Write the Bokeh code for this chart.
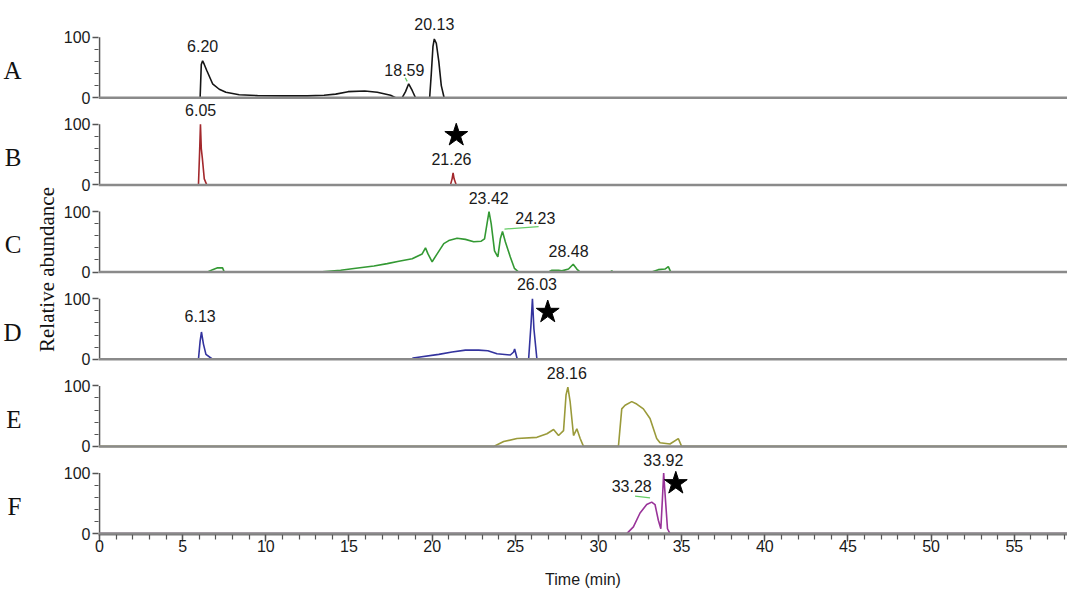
from bokeh.plotting import figure
from bokeh.models import FixedTicker, LinearAxis, Span, SingleIntervalTicker, ColumnDataSource
from bokeh.core.properties import value
from bokeh.embed import file_html
from bokeh.resources import INLINE

# ---------------- data ----------------
panels = ["A", "B", "C", "D", "E", "F"]
colors = ["#161616", "#a3282c", "#339933", "#33339e", "#9a9a3a", "#993399"]

A_t = [0, 6.05, 6.12, 6.2, 6.3, 6.45, 6.8, 7.2, 7.6, 8.4, 9.5, 11.0, 12.5, 13.5, 14.2, 14.95, 15.95, 16.7, 17.5, 17.8,
       18.2, 18.4, 18.59, 18.8, 19.0, 19.85, 19.95, 20.05, 20.13, 20.25, 20.4, 20.55, 20.72, 58.2]
A_y = [0, 0, 55, 61, 55, 45, 23, 14, 9, 5, 3.5, 3, 3, 4, 6, 10, 11, 9, 4, 0,
       0, 10, 23, 12, 0, 0, 40, 85, 97, 90, 60, 20, 0, 0]

B_t = [0, 5.95, 6.02, 6.07, 6.12, 6.18, 6.3, 6.45, 21.1, 21.2, 21.26, 21.32, 21.45, 58.2]
B_y = [0, 0, 55, 100, 60, 45, 10, 0, 0, 10, 20, 10, 0, 0]

C_t = [0, 6.5, 6.8, 7.1, 7.4, 7.5, 13.2, 14.5, 15.3, 16.5, 17.3, 18.0, 18.8, 19.4, 19.6, 19.75, 20.0, 20.3, 20.7,
       21.0, 21.5, 22.0, 22.5, 22.95, 23.15, 23.3, 23.42, 23.55, 23.75, 23.95, 24.1, 24.23, 24.4, 24.7, 24.95, 25.2,
       27.0, 27.2, 27.6, 27.8, 28.2, 28.48, 28.7, 28.9, 30.7, 30.8, 30.9, 33.2, 33.6, 34.0, 34.2, 34.35, 58.2]
C_y = [0, 0, 4, 7, 7, 0, 0, 3, 6, 10, 14, 18, 22, 30, 40, 30, 17, 30, 47,
       52, 56, 54, 50, 51, 55, 80, 100, 80, 35, 25, 55, 67, 50, 25, 6, 0,
       0, 3, 3, 2, 5, 13, 5, 0, 0, 2, 0, 0, 4, 5, 9, 0, 0]

D_t = [0, 5.95, 6.05, 6.13, 6.25, 6.4, 6.8, 18.8, 18.85, 20.4, 21.2, 22.0, 22.8, 23.35, 23.9, 24.7, 24.9, 24.96,
       25.1, 25.2, 25.8, 25.95, 26.03, 26.12, 26.3, 58.2]
D_y = [0, 0, 30, 45, 25, 8, 0, 0, 2, 8, 12, 15, 15, 14, 9, 7, 12, 17,
       2, 0, 0, 60, 100, 50, 0, 0]

E_t = [0, 23.7, 24.3, 25.1, 26.3, 26.9, 27.3, 27.6, 27.9, 28.05, 28.16, 28.3, 28.5, 28.7, 28.9, 29.1,
       31.2, 31.4, 31.6, 32.0, 32.3, 32.7, 33.1, 33.5, 33.7, 34.3, 34.8, 35.0, 58.2]
E_y = [0, 0, 8, 13, 15, 21, 28, 18, 26, 85, 98, 73, 18, 29, 13, 0,
       0, 62, 68, 74, 70, 62, 46, 13, 6, 4, 13, 0, 0]

F_t = [0, 31.7, 32.1, 32.5, 32.9, 33.2, 33.4, 33.6, 33.75, 33.85, 33.92, 34.0, 34.15, 34.3, 58.2]
F_y = [0, 0, 11, 34, 48, 52, 48, 22, 8, 60, 100, 67, 8, 0, 0]

traces_t = [A_t, B_t, C_t, D_t, E_t, F_t]
traces_y = [A_y, B_y, C_y, D_y, E_y, F_y]

# peak labels: panel index, time, relative height, text
label_panel = [0, 0, 0, 1, 1, 2, 2, 2, 3, 3, 4, 5, 5]
label_t = [6.2, 18.33, 20.13, 6.08, 21.16, 23.4, 26.2, 28.2, 6.05, 26.3, 28.1, 33.9, 32.0]
label_y = [86, 45, 122, 124, 42, 123, 90, 34, 71, 124, 122, 121, 79]
label_text = ["6.20", "18.59", "20.13", "6.05", "21.26", "23.42", "24.23", "28.48", "6.13", "26.03", "28.16", "33.92", "33.28"]

# leader lines (panel, t0, y0, t1, y1)
lead_panel = [0, 2, 5]
lead_t0 = [18.38, 24.35, 32.2]
lead_y0 = [33, 71, 62]
lead_t1 = [18.5, 26.4, 33.1]
lead_y1 = [27, 75, 59]

# stars
star_panel = [1, 3, 5]
star_t = [21.45, 26.95, 34.65]
star_y = [82, 78, 83]

x_ticks_interval = 5
y_tick_values = [0, 100]
y_minor_values = [20, 40, 60, 80]

# ---------------- layout ----------------
STEP = 144
n = len(panels)
offsets = [(n - 1 - i) * STEP for i in range(n)]

SANS = "Liberation Sans"
SERIF = "Liberation Serif"

p = figure(width=1067, height=590, x_range=(-0.06, 58.2), y_range=(-1.5, 874),
           output_backend="svg", toolbar_location=None,
           min_border_left=91, min_border_right=0, min_border_top=4, min_border_bottom=0)
p.outline_line_color = None
p.xgrid.visible = False
p.ygrid.visible = False

# panel baselines
for off in offsets:
    p.add_layout(Span(location=off, dimension="width", line_color="#8a8a8a", line_width=2.5))

# y axis stubs per panel
p.segment(x0=[0] * n, y0=offsets, x1=[0] * n, y1=[o + 100 for o in offsets], line_color="#555555", line_width=1.6)

# traces
for i in range(n):
    ys = [v + offsets[i] for v in traces_y[i]]
    p.line(traces_t[i], ys, line_color=colors[i], line_width=1.6)

# leader lines
p.segment(x0=lead_t0, y0=[lead_y0[k] + offsets[lead_panel[k]] for k in range(len(lead_t0))],
          x1=lead_t1, y1=[lead_y1[k] + offsets[lead_panel[k]] for k in range(len(lead_t0))],
          line_color="#66cc66", line_width=1.3)

# peak labels
lab_src = ColumnDataSource(dict(x=label_t, y=[label_y[k] + offsets[label_panel[k]] for k in range(len(label_t))],
                                text=label_text))
p.text(x="x", y="y", text="text", source=lab_src, text_align="center", text_baseline="middle",
       text_font=value(SANS), text_font_size="16px", text_color="#1a1a1a")

# stars
p.scatter(x=star_t, y=[star_y[k] + offsets[star_panel[k]] for k in range(len(star_t))],
          marker="star", size=24, fill_color="black", line_color="black")

# y axis (primary)
yticks = []
ylabels = {}
yminor = []
for off in offsets:
    for v in y_tick_values:
        yticks.append(off + v)
        ylabels[off + v] = str(v)
    for v in y_minor_values:
        yminor.append(off + v)
yax = p.yaxis[0]
yax.ticker = FixedTicker(ticks=yticks, minor_ticks=yminor)
yax.major_label_overrides = ylabels
yax.axis_line_color = None
yax.major_tick_line_color = "#555555"
yax.minor_tick_line_color = "#555555"
yax.major_tick_in = 0
yax.major_tick_out = 6
yax.minor_tick_in = 0
yax.minor_tick_out = 4
yax.major_tick_line_width = 1.4
yax.minor_tick_line_width = 1.2
yax.major_label_standoff = 2
yax.major_label_text_font = SANS
yax.major_label_text_font_size = "16px"
yax.major_label_text_color = "#1a1a1a"
yax.axis_label = "Relative abundance"
yax.axis_label_text_font = SERIF
yax.axis_label_text_font_style = "normal"
yax.axis_label_text_font_size = "21px"
yax.axis_label_text_color = "#111111"
yax.axis_label_standoff = 2

# letters axis
lax = LinearAxis(ticker=FixedTicker(ticks=[o + 45 for o in offsets]),
                 major_label_overrides={o + 45: panels[i] for i, o in enumerate(offsets)})
lax.axis_line_color = None
lax.major_tick_line_color = None
lax.minor_tick_line_color = None
lax.major_tick_out = 0
lax.major_label_standoff = 10
lax.major_label_text_font = SERIF
lax.major_label_text_font_size = "25px"
lax.major_label_text_color = "#111111"
p.add_layout(lax, "left")

# x axis
xax = p.xaxis[0]
xax.ticker = SingleIntervalTicker(interval=x_ticks_interval, num_minor_ticks=5)
xax.axis_line_color = "#7a7a7a"
xax.axis_line_width = 2
xax.major_tick_line_color = "#555555"
xax.minor_tick_line_color = "#555555"
xax.major_tick_in = 0
xax.major_tick_out = 7
xax.minor_tick_in = 0
xax.minor_tick_out = 5
xax.major_tick_line_width = 1.4
xax.minor_tick_line_width = 1.2
xax.major_label_standoff = -2
xax.major_label_text_font = SANS
xax.major_label_text_font_size = "16px"
xax.major_label_text_color = "#1a1a1a"
xax.axis_label = "Time (min)"
xax.axis_label_text_font = SANS
xax.axis_label_text_font_style = "normal"
xax.axis_label_text_font_size = "16px"
xax.axis_label_text_color = "#1a1a1a"
xax.axis_label_standoff = 16

open("out.html", "w").write(file_html(p, INLINE))
